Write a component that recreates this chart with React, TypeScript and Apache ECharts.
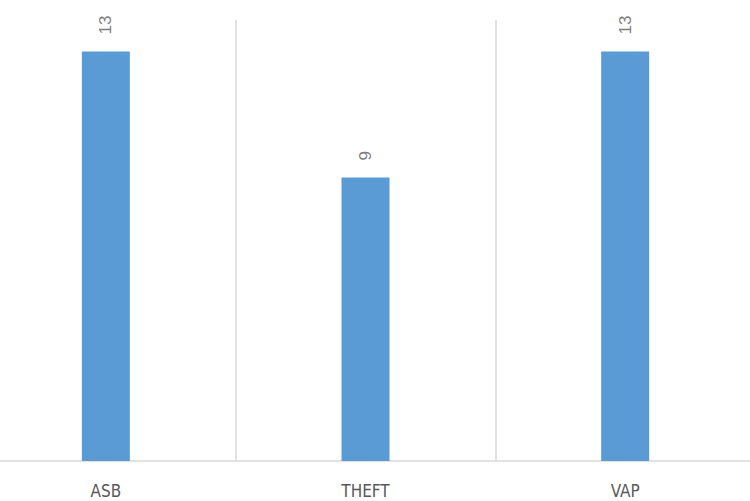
import React, { useEffect, useRef } from "react";
import * as echarts from "echarts";

const categories = ["ASB", "THEFT", "VAP"];
const values = [13, 9, 13];

export default function App() {
  const ref = useRef<HTMLDivElement>(null);
  useEffect(() => {
    document.body.style.margin = "0";
    const chart = echarts.init(ref.current!, null, { renderer: "svg" });
    chart.setOption({
      animation: false,
      grid: { left: 0, right: 0, top: 20, bottom: 40, containLabel: false },
      xAxis: {
        type: "category",
        data: categories,
        boundaryGap: true,
        axisLine: { show: true, lineStyle: { color: "#d9d9d9", width: 1.5 } },
        axisTick: { show: false },
        splitLine: { show: true, lineStyle: { color: "#d9d9d9", width: 1.5 } },
        axisLabel: {
          color: "#595959",
          fontSize: 17,
          fontFamily: "DejaVu Sans Condensed, Liberation Sans, sans-serif",
          margin: 21,
        },
      },
      yAxis: {
        type: "value",
        min: 0,
        max: 14,
        show: false,
        splitLine: { show: false },
      },
      series: [
        {
          type: "bar",
          data: values,
          barWidth: 48,
          itemStyle: { color: "#5b9bd5" },
          label: {
            show: true,
            position: "top",
            rotate: 90,
            align: "left",
            verticalAlign: "middle",
            distance: 17,
            color: "#7f7f7f",
            fontSize: 17,
            fontFamily: "Liberation Sans, Open Sans, sans-serif",
          },
        },
      ],
    });
    return () => chart.dispose();
  }, []);
  return (
    <div style={{ width: 750, height: 501, overflow: "hidden", position: "relative" }}>
      <div ref={ref} style={{ position: "absolute", left: -24, top: 0, width: 779, height: 501 }} />
    </div>
  );
}
